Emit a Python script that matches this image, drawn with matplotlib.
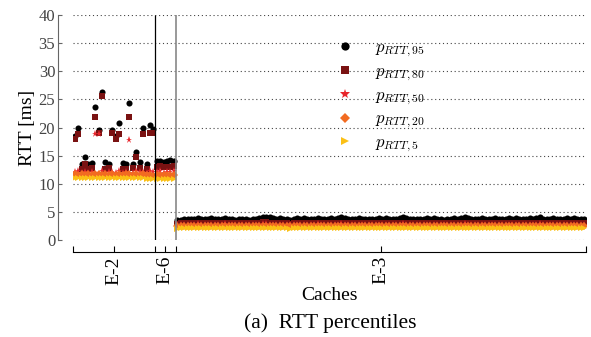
import numpy as np
import matplotlib
matplotlib.use("Agg")
import matplotlib.pyplot as plt

plt.rcParams['font.family'] = ['Liberation Serif', 'DejaVu Serif']
plt.rcParams['mathtext.fontset'] = 'cm'

# caches and number of samples per cache (x = sample index)
caches = ["E-2", "E-6", "E-3"]

# RTT percentiles [ms], cache E-2
p95_e2 = [18.5, 20.0, 13.6, 14.7, 13.5, 13.7, 23.7, 19.6, 26.4, 13.8, 13.6, 19.6,
          18.5, 20.8, 13.7, 13.5, 24.3, 13.6, 15.7, 13.8, 19.9, 13.6, 20.4, 19.8]
p80_e2 = [18.0, 18.8, 12.7, 13.6, 12.7, 12.8, 21.9, 19.0, 25.7, 12.7, 12.8, 19.0,
          18.0, 18.8, 12.7, 12.6, 21.8, 12.8, 14.8, 12.8, 18.8, 12.7, 19.1, 19.1]
p50_e2 = [12.1, 12.2, 12.0, 12.1, 12.0, 12.1, 18.8, 18.8, 12.2, 12.0, 12.1, 12.1,
          12.0, 12.2, 12.0, 12.1, 17.8, 12.0, 12.3, 12.1, 12.1, 12.0, 12.2, 12.1]
p20_e2 = [11.7, 11.6, 11.7, 11.6, 11.7, 11.6, 11.7, 11.7, 11.6, 11.7, 11.6, 11.7,
          11.6, 11.7, 11.6, 11.7, 11.7, 11.6, 11.7, 11.6, 11.7, 11.6, 11.5, 11.4]
p5_e2 = [11.1, 11.0, 11.1, 11.0, 11.1, 11.0, 11.1, 11.1, 11.0, 11.1, 11.0, 11.1,
         11.0, 11.1, 11.0, 11.1, 11.1, 11.0, 11.1, 11.0, 11.0, 10.9, 10.8, 10.8]

# cache E-6
p95_e6 = [14.0, 14.1, 13.9, 14.0, 14.2, 14.1]
p80_e6 = [13.0, 13.1, 12.9, 13.0, 13.0, 13.1]
p50_e6 = [12.1, 12.2, 12.0, 12.1, 12.1, 12.2]
p20_e6 = [11.5, 11.6, 11.5, 11.5, 11.6, 11.5]
p5_e6 = [10.9, 10.9, 10.8, 10.9, 10.9, 10.8]

# cache E-3
p95_e3 = [3.5, 3.6, 3.7, 3.8, 3.7, 3.8, 3.9, 3.8, 3.7, 3.8, 3.9, 3.8, 3.7, 3.8, 3.9,
          3.8, 3.7, 3.6, 3.7, 3.8, 3.7, 3.6, 3.7, 3.8, 3.9, 4.0, 4.1, 4.0, 3.9, 3.8,
          3.9, 3.8, 3.7, 3.5, 3.8, 3.9, 3.8, 3.9, 3.8, 3.7, 3.8, 3.9, 3.8, 3.7, 3.8,
          3.9, 3.8, 3.9, 4.0, 3.9, 3.8, 3.7, 3.8, 3.9, 3.8, 3.7, 3.8, 3.7, 3.8, 3.9,
          3.8, 3.9, 3.8, 3.7, 3.8, 3.9, 4.0, 3.9, 3.8, 3.7, 3.8, 3.7, 3.8, 3.9, 3.8,
          3.9, 3.8, 3.7, 3.6, 3.7, 3.8, 3.9, 3.8, 3.9, 4.0, 3.9, 3.8, 3.7, 3.8, 3.9,
          3.8, 3.7, 3.8, 3.9, 3.8, 3.7, 3.8, 3.9, 3.8, 3.9, 3.8, 3.7, 3.8, 3.9, 3.8,
          3.9, 4.0, 3.8, 3.7, 3.8, 3.9, 3.8, 3.7, 3.8, 3.9, 3.8, 3.9, 3.8, 3.7, 3.8]
p80_e3 = [2.9, 3.0, 3.0, 3.1, 3.0, 3.1, 3.1, 3.0, 3.0, 3.1, 3.1, 3.0, 3.0, 3.1, 3.1,
          3.0, 3.0, 3.0, 3.0, 3.1, 3.0, 3.0, 3.0, 3.1, 3.1, 3.2, 3.2, 3.1, 3.1, 3.0,
          3.1, 3.0, 3.0, 2.9, 3.0, 3.1, 3.0, 3.1, 3.0, 3.0, 3.0, 3.1, 3.0, 3.0, 3.0,
          3.1, 3.0, 3.1, 3.1, 3.1, 3.0, 3.0, 3.0, 3.1, 3.0, 3.0, 3.0, 3.0, 3.0, 3.1,
          3.0, 3.1, 3.0, 3.0, 3.0, 3.1, 3.1, 3.1, 3.0, 3.0, 3.0, 3.0, 3.0, 3.1, 3.0,
          3.1, 3.0, 3.0, 3.0, 3.0, 3.0, 3.1, 3.0, 3.1, 3.1, 3.1, 3.0, 3.0, 3.0, 3.1,
          3.0, 3.0, 3.0, 3.1, 3.0, 3.0, 3.0, 3.1, 3.0, 3.1, 3.0, 3.0, 3.0, 3.1, 3.0,
          3.1, 3.1, 3.0, 3.0, 3.0, 3.1, 3.0, 3.0, 3.0, 3.1, 3.0, 3.1, 3.0, 3.0, 3.0]
p50_e3 = [2.6, 2.7, 2.7, 2.7, 2.7, 2.7, 2.8, 2.7, 2.7, 2.7, 2.7, 2.7, 2.7, 2.7, 2.8,
          2.7, 2.7, 2.7, 2.7, 2.7, 2.7, 2.7, 2.7, 2.7, 2.7, 2.8, 2.8, 2.7, 2.7, 2.7,
          2.7, 2.7, 2.7, 2.6, 2.7, 2.7, 2.7, 2.7, 2.7, 2.7, 2.7, 2.8, 2.7, 2.7, 2.7,
          2.7, 2.7, 2.7, 2.8, 2.7, 2.7, 2.7, 2.7, 2.7, 2.7, 2.7, 2.7, 2.7, 2.7, 2.7,
          2.7, 2.7, 2.7, 2.7, 2.7, 2.7, 2.8, 2.7, 2.7, 2.7, 2.7, 2.7, 2.7, 2.7, 2.7,
          2.7, 2.7, 2.7, 2.7, 2.7, 2.7, 2.7, 2.7, 2.7, 2.8, 2.7, 2.7, 2.7, 2.7, 2.7,
          2.7, 2.7, 2.7, 2.7, 2.7, 2.7, 2.7, 2.7, 2.7, 2.7, 2.7, 2.7, 2.7, 2.7, 2.7,
          2.7, 2.8, 2.7, 2.7, 2.7, 2.7, 2.7, 2.7, 2.7, 2.7, 2.7, 2.7, 2.7, 2.7, 2.7]
p20_e3 = [2.4, 2.4, 2.5, 2.5, 2.5, 2.5, 2.5, 2.5, 2.5, 2.5, 2.5, 2.5, 2.5, 2.5, 2.5,
          2.5, 2.5, 2.5, 2.5, 2.5, 2.5, 2.5, 2.5, 2.5, 2.5, 2.5, 2.5, 2.5, 2.5, 2.5,
          2.5, 2.5, 2.5, 2.4, 2.5, 2.5, 2.5, 2.5, 2.5, 2.5, 2.5, 2.5, 2.5, 2.5, 2.5,
          2.5, 2.5, 2.5, 2.5, 2.5, 2.5, 2.5, 2.5, 2.5, 2.5, 2.5, 2.5, 2.5, 2.5, 2.5,
          2.5, 2.5, 2.5, 2.5, 2.5, 2.5, 2.5, 2.5, 2.5, 2.5, 2.5, 2.5, 2.5, 2.5, 2.5,
          2.5, 2.5, 2.5, 2.5, 2.5, 2.5, 2.5, 2.5, 2.5, 2.5, 2.5, 2.5, 2.5, 2.5, 2.5,
          2.5, 2.5, 2.5, 2.5, 2.5, 2.5, 2.5, 2.5, 2.5, 2.5, 2.5, 2.5, 2.5, 2.5, 2.5,
          2.5, 2.5, 2.5, 2.5, 2.5, 2.5, 2.5, 2.5, 2.5, 2.5, 2.5, 2.5, 2.5, 2.5, 2.5]
p5_e3 = [2.0, 2.1, 2.1, 2.1, 2.1, 2.1, 2.1, 2.1, 2.1, 2.1, 2.1, 2.1, 2.1, 2.1, 2.1,
         2.1, 2.1, 2.1, 2.1, 2.1, 2.1, 2.1, 2.1, 2.1, 2.1, 2.1, 2.1, 2.1, 2.1, 2.1,
         2.1, 2.1, 2.1, 2.0, 2.1, 2.1, 2.1, 2.1, 2.1, 2.1, 2.1, 2.1, 2.1, 2.1, 2.1,
         2.1, 2.1, 2.1, 2.1, 2.1, 2.1, 2.1, 2.1, 2.1, 2.1, 2.1, 2.1, 2.1, 2.1, 2.1,
         2.1, 2.1, 2.1, 2.1, 2.1, 2.1, 2.1, 2.1, 2.1, 2.1, 2.1, 2.1, 2.1, 2.1, 2.1,
         2.1, 2.1, 2.1, 2.1, 2.1, 2.1, 2.1, 2.1, 2.1, 2.1, 2.1, 2.1, 2.1, 2.1, 2.1,
         2.1, 2.1, 2.1, 2.1, 2.1, 2.1, 2.1, 2.1, 2.1, 2.1, 2.1, 2.1, 2.1, 2.1, 2.1,
         2.1, 2.1, 2.1, 2.1, 2.1, 2.1, 2.1, 2.1, 2.1, 2.1, 2.1, 2.1, 2.1, 2.1, 2.1]

labels = [r"$p_{RTT,95}$", r"$p_{RTT,80}$", r"$p_{RTT,50}$", r"$p_{RTT,20}$", r"$p_{RTT,5}$"]
colors = ["black", "#7a1212", "#e8262c", "#f26b21", "#fbc016"]
markers = ["o", "s", "*", "D", ">"]
msizes = [4.4, 4.0, 5.2, 3.8, 4.4]

series = [p95_e2 + p95_e6 + p95_e3,
          p80_e2 + p80_e6 + p80_e3,
          p50_e2 + p50_e6 + p50_e3,
          p20_e2 + p20_e6 + p20_e3,
          p5_e2 + p5_e6 + p5_e3]
n_per_cache = [len(p95_e2), len(p95_e6), len(p95_e3)]
x = np.arange(1, sum(n_per_cache) + 1)

fig = plt.figure(figsize=(5.91, 3.37), dpi=100)
ax = fig.add_axes([0.1235, 0.288, 0.868, 0.667])

for vals, c, m, ms, lab in zip(series, colors, markers, msizes, labels):
    ax.plot(x, vals, linestyle="none", marker=m, color=c, markersize=ms,
            markeredgewidth=0, label=lab)

# cache boundaries
bounds = np.concatenate([[0.5], np.cumsum(n_per_cache) + 0.5])
centers = (bounds[:-1] + bounds[1:]) / 2
ax.vlines(bounds[1], 0, 40, color="black", lw=0.9)
ax.vlines(bounds[2], 0, 40, color="#888888", lw=1.2)

ax.set_xlim(bounds[0], bounds[-1])
ax.set_ylim(0, 40)
ax.set_yticks(np.arange(0, 41, 5))
ax.yaxis.grid(True, linestyle=(0, (1, 2.5)), color="#444444", lw=0.8)
ax.set_axisbelow(True)

ax.set_xticks(list(bounds) + list(centers))
ax.set_xticklabels([""] * len(bounds) + caches)

for s in ["top", "right"]:
    ax.spines[s].set_visible(False)
ax.spines["left"].set_position(("outward", 10.8))
ax.spines["left"].set_bounds(0, 40)
ax.spines["left"].set_color("#666666")
ax.spines["bottom"].set_position(("outward", 8.6))
ax.spines["bottom"].set_bounds(bounds[0], bounds[-1])
ax.tick_params(axis="y", direction="in", length=3, colors="#666666", labelsize=12,
               labelcolor="#444444", pad=2)
ax.tick_params(axis="x", direction="in", length=4, labelsize=14, labelrotation=90, pad=3)

ax.set_ylabel("RTT [ms]", fontsize=14, labelpad=2)
ax.set_xlabel("Caches", fontsize=14, labelpad=2)

ax.legend(loc="upper left", bbox_to_anchor=(0.468, 0.955), frameon=False, numpoints=1,
          fontsize=12, labelspacing=0.28, handletextpad=0.8, markerscale=1.35)

fig.text(0.558, 0.042, "(a)  RTT percentiles", ha="center", va="center", fontsize=15.5)

plt.savefig("out.png", dpi=100)
